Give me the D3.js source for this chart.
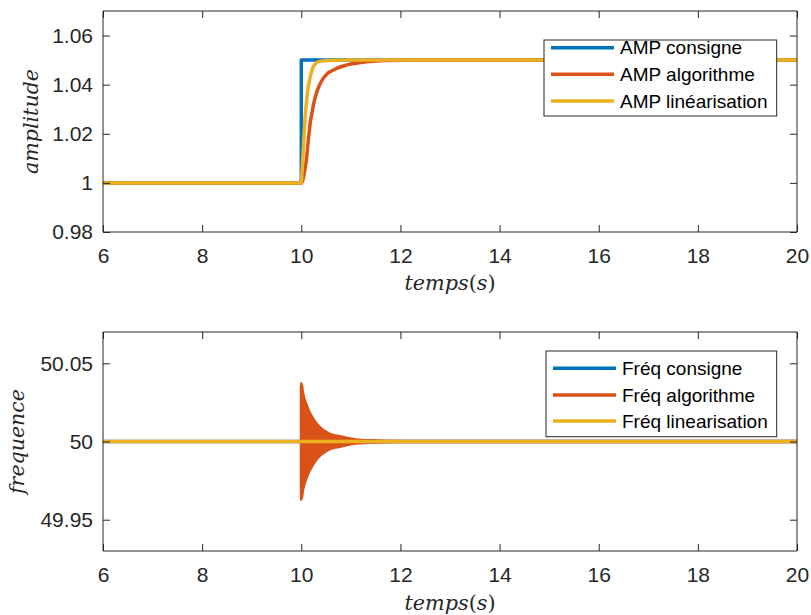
<!DOCTYPE html>
<html>
<head>
<meta charset="utf-8">
<script src="https://cdn.jsdelivr.net/npm/d3@7"></script>
<style>
  html, body { margin: 0; padding: 0; background: #fff; }
  svg { display: block; }
</style>
</head>
<body>
<svg id="chart" width="811" height="615"></svg>
<script>
// ---------- DATA ----------
const xTicks = [6, 8, 10, 12, 14, 16, 18, 20];
const ampTicks = [0.98, 1, 1.02, 1.04, 1.06];
const ampTickLabels = ["0.98", "1", "1.02", "1.04", "1.06"];
const freqTicks = [49.95, 50, 50.05];
const freqTickLabels = ["49.95", "50", "50.05"];

const ampLegend = ["AMP consigne", "AMP algorithme", "AMP linéarisation"];
const freqLegend = ["Fréq consigne", "Fréq algorithme", "Fréq linearisation"];

// amplitude: consigne (step)
const ampConsTime = [6, 10, 20];
const ampConsVal = [1, 1.05, 1.05];
// amplitude: algorithme
const ampAlgoTime = [6, 10, 10.03, 10.06, 10.1, 10.14, 10.18, 10.22, 10.27, 10.33, 10.4, 10.5, 10.6, 10.71, 10.85, 11, 11.2, 11.45, 11.7, 12, 20];
const ampAlgoVal = [1, 1, 1.001, 1.004, 1.009, 1.017, 1.0244, 1.029, 1.034, 1.038, 1.0412, 1.044, 1.0455, 1.0466, 1.0476, 1.0484, 1.049, 1.0495, 1.0498, 1.0499, 1.05];
// amplitude: linéarisation
const ampLinTime = [6, 10, 10.02, 10.04, 10.06, 10.075, 10.1, 10.12, 10.15, 10.19, 10.24, 10.3, 10.38, 10.5, 10.7, 11, 20];
const ampLinVal = [1, 1, 1.006, 1.014, 1.021, 1.026, 1.032, 1.036, 1.04, 1.044, 1.0472, 1.0488, 1.0495, 1.0498, 1.04995, 1.05, 1.05];

// frequency: consigne and linearisation
const freqConsTime = [6, 20];
const freqConsVal = [50, 50];
const freqLinTime = [6, 20];
const freqLinVal = [50, 50];
// frequency: algorithme (fast oscillation around 50, envelope)
const freqAlgoTime = [6, 9.999, 10, 10.03, 10.06, 10.1, 10.15, 10.2, 10.3, 10.4, 10.5, 10.6, 10.75, 10.9, 11.1, 11.4, 12, 20];
const freqAlgoCenter = [50, 50, 50, 50, 50, 50, 50, 50, 50, 50, 50, 50, 50, 50, 50, 50, 50, 50];
const freqAlgoEnv = [0, 0, 0.037, 0.031, 0.027, 0.0235, 0.0195, 0.0165, 0.0115, 0.0082, 0.006, 0.0044, 0.0034, 0.0022, 0.0012, 0.0006, 0.0002, 0.0001];

const colors = ["#0072BD", "#D95319", "#EDB120"];

// ---------- LAYOUT ----------
const svg = d3.select("#chart");
const axisColor = "#262626";
const tickFont = "'Liberation Sans', Arial, Helvetica, sans-serif";
const mathFont = "'DejaVu Serif', serif";
const L = 103, R = 797;

const x = d3.scaleLinear().domain([6, 20]).range([L, R]);
const yAmp = d3.scaleLinear().domain([0.98, 1.07]).range([232, 11]);
const yFreq = d3.scaleLinear().domain([49.93, 50.07]).range([551, 332]);

function zip(ts, vs) { return ts.map((t, i) => [t, vs[i]]); }

function drawPanel(y) {
  const top = y.range()[1], bottom = y.range()[0];
  const clipId = "clip" + Math.round(top);
  svg.append("clipPath").attr("id", clipId).append("rect")
    .attr("x", L).attr("y", top).attr("width", R - L).attr("height", bottom - top);
  const plot = svg.append("g").attr("clip-path", `url(#${clipId})`);
  return { plot };
}

function drawAxes(y, ticks, tickLabels, yLabel, yLabelLen, yLabelX, xLabelY) {
  const top = y.range()[1], bottom = y.range()[0];
  const g = svg.append("g");
  const tl = 7;
  const xb = g.append("g").attr("transform", `translate(0,${bottom})`)
    .call(d3.axisBottom(x).tickValues(xTicks).tickSize(-tl).tickPadding(tl + 9).tickSizeOuter(0));
  const xt = g.append("g").attr("transform", `translate(0,${top})`)
    .call(d3.axisTop(x).tickValues(xTicks).tickSize(-tl).tickFormat("").tickSizeOuter(0));
  const yl = g.append("g").attr("transform", `translate(${L},0)`)
    .call(d3.axisLeft(y).tickValues(ticks).tickSize(-tl).tickPadding(10)
      .tickFormat((d, i) => tickLabels[i]).tickSizeOuter(0));
  const yr = g.append("g").attr("transform", `translate(${R},0)`)
    .call(d3.axisRight(y).tickValues(ticks).tickSize(-tl).tickFormat("").tickSizeOuter(0));
  [xb, xt, yl, yr].forEach(a => {
    a.select(".domain").attr("stroke", axisColor).attr("stroke-width", 1);
    a.selectAll(".tick line").attr("stroke", axisColor).attr("stroke-width", 1);
    a.selectAll("text").attr("fill", axisColor).style("font-family", tickFont).style("font-size", "21px");
  });
  xb.select(".domain").attr("d", `M${L},0H${R}`);
  xt.select(".domain").attr("d", `M${L},0H${R}`);
  yl.select(".domain").attr("d", `M0,${top}V${bottom}`);
  yr.select(".domain").attr("d", `M0,${top}V${bottom}`);

  const xl = g.append("text")
    .attr("x", (L + R) / 2).attr("y", xLabelY)
    .attr("text-anchor", "middle")
    .attr("fill", axisColor)
    .style("font-family", mathFont).style("font-size", "21px")
    .attr("textLength", 91).attr("lengthAdjust", "spacingAndGlyphs");
  xl.append("tspan").style("font-style", "italic").text("temps");
  xl.append("tspan").text("(");
  xl.append("tspan").style("font-style", "italic").text("s");
  xl.append("tspan").text(")");

  const cy = (top + bottom) / 2;
  g.append("text")
    .attr("transform", `translate(${yLabelX},${cy}) rotate(-90)`)
    .attr("text-anchor", "middle")
    .attr("fill", axisColor)
    .style("font-family", mathFont).style("font-size", "21px").style("font-style", "italic")
    .attr("textLength", yLabelLen).attr("lengthAdjust", "spacingAndGlyphs")
    .text(yLabel);
}

function drawLegend(texts, box) {
  const g = svg.append("g");
  g.append("rect")
    .attr("x", box.x).attr("y", box.y).attr("width", box.w).attr("height", box.h)
    .attr("fill", "#fff").attr("stroke", axisColor).attr("stroke-width", 1);
  texts.forEach((t, i) => {
    const cy = box.rows[i];
    g.append("line")
      .attr("x1", box.lx1).attr("x2", box.lx2).attr("y1", cy).attr("y2", cy)
      .attr("stroke", colors[i]).attr("stroke-width", 3.5);
    g.append("text")
      .attr("x", box.tx).attr("y", cy + 6.5)
      .attr("fill", "#000")
      .style("font-family", tickFont).style("font-size", "19px")
      .text(t);
  });
}

// ---------- TOP PANEL ----------
{
  const p = drawPanel(yAmp);
  const lineStep = d3.line().x(d => x(d[0])).y(d => yAmp(d[1])).curve(d3.curveStepAfter);
  const lineSmooth = d3.line().x(d => x(d[0])).y(d => yAmp(d[1])).curve(d3.curveMonotoneX);
  p.plot.append("path").datum(zip(ampConsTime, ampConsVal))
    .attr("d", lineStep).attr("fill", "none").attr("stroke", colors[0]).attr("stroke-width", 3.5).attr("stroke-linejoin", "round");
  p.plot.append("path").datum(zip(ampAlgoTime, ampAlgoVal))
    .attr("d", lineSmooth).attr("fill", "none").attr("stroke", colors[1]).attr("stroke-width", 3.5).attr("stroke-linejoin", "round");
  p.plot.append("path").datum(zip(ampLinTime, ampLinVal))
    .attr("d", lineSmooth).attr("fill", "none").attr("stroke", colors[2]).attr("stroke-width", 3.5).attr("stroke-linejoin", "round");
  drawAxes(yAmp, ampTicks, ampTickLabels, "amplitude", 105, 38, 290);
  drawLegend(ampLegend, { x: 544, y: 40, w: 232.7, h: 76, lx1: 551, lx2: 614, tx: 620, rows: [47.7, 74.3, 101] });
}

// ---------- BOTTOM PANEL ----------
{
  const p = drawPanel(yFreq);
  const line = d3.line().x(d => x(d[0])).y(d => yFreq(d[1]));
  p.plot.append("path").datum(zip(freqConsTime, freqConsVal))
    .attr("d", line).attr("fill", "none").attr("stroke", colors[0]).attr("stroke-width", 3.5);
  const env = freqAlgoTime.map((t, i) => ({ t, c: freqAlgoCenter[i], a: freqAlgoEnv[i] }));
  const area = d3.area().x(d => x(d.t)).y0(d => yFreq(d.c - d.a)).y1(d => yFreq(d.c + d.a)).curve(d3.curveMonotoneX);
  p.plot.append("path").datum(env)
    .attr("d", area).attr("fill", colors[1]).attr("stroke", colors[1]).attr("stroke-width", 3).attr("stroke-linejoin", "round");
  p.plot.append("path").datum(zip(freqLinTime, freqLinVal))
    .attr("d", line).attr("fill", "none").attr("stroke", colors[2]).attr("stroke-width", 3.5);
  drawAxes(yFreq, freqTicks, freqTickLabels, "frequence", 105, 24, 610);
  drawLegend(freqLegend, { x: 546, y: 351, w: 230.7, h: 85.7, lx1: 553, lx2: 616, tx: 622, rows: [368.3, 395, 421] });
}
</script>
</body>
</html>
